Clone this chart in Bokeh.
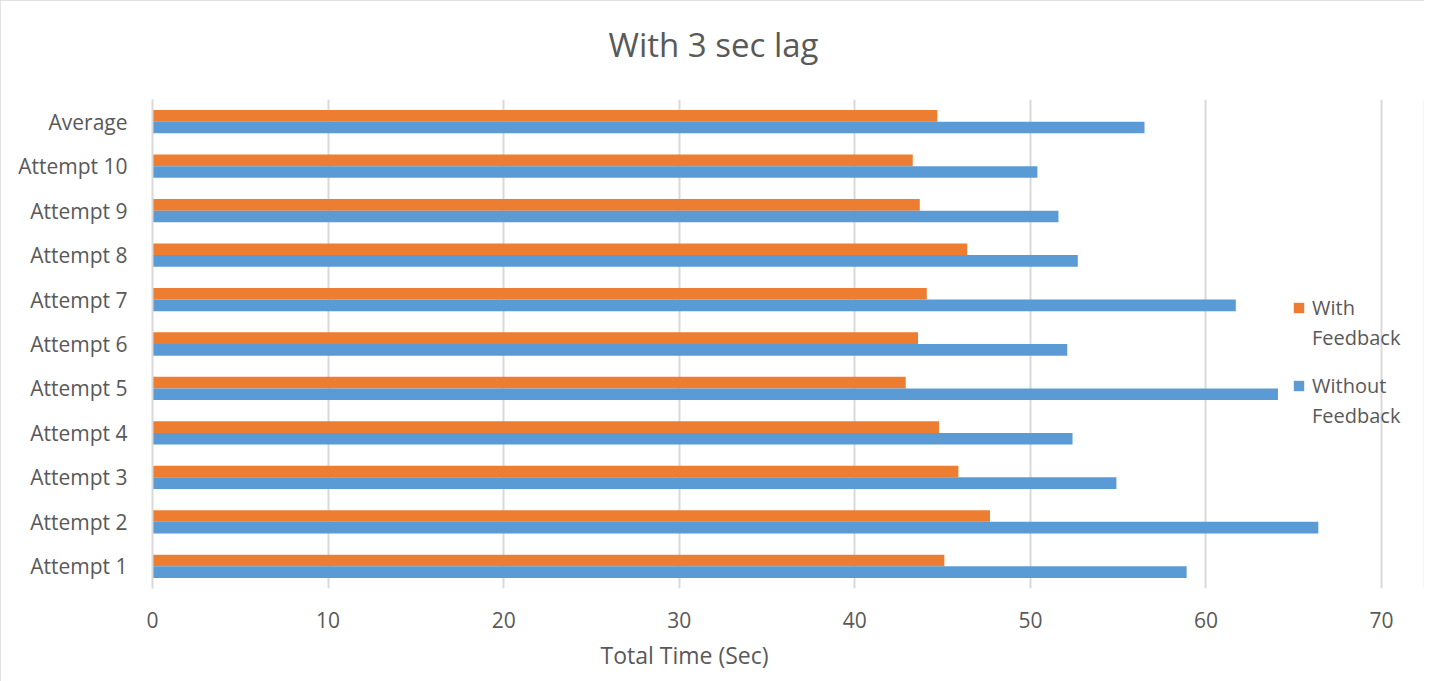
from bokeh.plotting import figure
from bokeh.models import (ColumnDataSource, FactorRange, Range1d, FixedTicker,
                          Legend, LegendItem, Title)
from bokeh.transform import dodge
from bokeh.embed import file_html
from bokeh.resources import INLINE

# Attempts listed bottom to top
categories = ["Attempt 1", "Attempt 2", "Attempt 3", "Attempt 4", "Attempt 5",
              "Attempt 6", "Attempt 7", "Attempt 8", "Attempt 9", "Attempt 10",
              "Average"]
with_feedback = [45.1, 47.7, 45.9, 44.8, 42.9, 43.6, 44.1, 46.4, 43.7, 43.3, 44.7]
without_feedback = [58.9, 66.4, 54.9, 52.4, 64.1, 52.1, 61.7, 52.7, 51.6, 50.4, 56.5]
x_ticks = [0, 10, 20, 30, 40, 50, 60, 70]

ORANGE = "#ED7D31"
BLUE = "#5B9BD5"
TEXT = "#595959"
GRID = "#d9d9d9"
FONT = "Open Sans"

source = ColumnDataSource(dict(cat=categories, with_fb=with_feedback,
                               without_fb=without_feedback))

# The frame runs past 70 so the legend can sit inside it on the right
p = figure(width=1424, height=681, output_backend="svg", toolbar_location=None,
           y_range=FactorRange(factors=categories, range_padding=0),
           x_range=Range1d(0, 72.39),
           min_border_left=152, min_border_right=1,
           min_border_top=99, min_border_bottom=93)
p.styles = {"outline": "2px solid #d9d9d9", "outline-offset": "-2px"}
p.outline_line_color = None
p.title = None

bar_h = 0.262
r_with = p.hbar(y=dodge("cat", bar_h / 2, range=p.y_range), left=0, right="with_fb",
                height=bar_h, source=source, fill_color=ORANGE, line_color=None)
r_without = p.hbar(y=dodge("cat", -bar_h / 2, range=p.y_range), left=0, right="without_fb",
                   height=bar_h, source=source, fill_color=BLUE, line_color=None)
# invisible renderer used for the second line of each legend entry
r_blank = p.hbar(y=[], left=[], right=[], height=bar_h,
                 fill_alpha=0, line_alpha=0)

# Title: a thin spacer next to the frame, then the heading above it
p.add_layout(Title(text=" ", text_font_size="1px", standoff=8), "above")
p.add_layout(Title(text="With 3 sec lag", align="left", offset=456,
                   vertical_align="top", standoff=40,
                   text_font=FONT, text_font_size="33px", text_font_style="normal",
                   text_color=TEXT), "above")

# X axis
p.xaxis.ticker = FixedTicker(ticks=x_ticks)
p.xaxis.axis_line_color = None
p.xaxis.major_tick_line_color = None
p.xaxis.minor_tick_line_color = None
p.xaxis.major_label_text_font = FONT
p.xaxis.major_label_text_font_size = "21px"
p.xaxis.major_label_text_color = TEXT
p.xaxis.major_label_standoff = 17

p.add_layout(Title(text="Total Time (Sec)", align="left", offset=448,
                   text_font=FONT, text_font_size="23px", text_font_style="normal",
                   text_color=TEXT, standoff=12), "below")

# Y axis
p.yaxis.axis_line_color = GRID
p.yaxis.axis_line_width = 2
p.yaxis.major_tick_line_color = None
p.yaxis.minor_tick_line_color = None
p.yaxis.major_label_text_font = FONT
p.yaxis.major_label_text_font_size = "21px"
p.yaxis.major_label_text_color = TEXT
p.yaxis.major_label_standoff = 19

# Grid
p.xgrid.grid_line_color = GRID
p.xgrid.grid_line_width = 2
p.ygrid.grid_line_color = None

legend_style = dict(orientation="vertical", glyph_width=13, glyph_height=13,
                    label_standoff=7, label_height=30, spacing=0,
                    padding=0, margin=0, border_line_color=None,
                    background_fill_alpha=0, label_text_font=FONT,
                    label_text_font_size="20px", label_text_color=TEXT)

legend_with = Legend(items=[LegendItem(label="With", renderers=[r_with]),
                            LegendItem(label="Feedback", renderers=[r_blank])],
                     location=(1140, 236), **legend_style)
legend_without = Legend(items=[LegendItem(label="Without", renderers=[r_without]),
                               LegendItem(label="Feedback", renderers=[r_blank])],
                        location=(1140, 158), **legend_style)
p.add_layout(legend_with)
p.add_layout(legend_without)

open("out.html", "w").write(file_html(p, INLINE))
